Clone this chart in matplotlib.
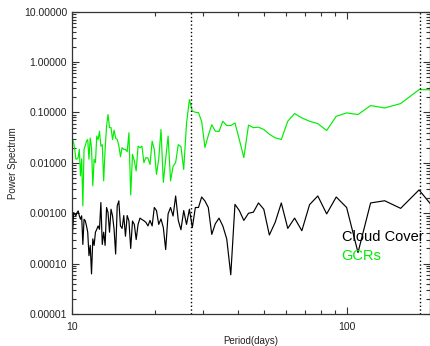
import numpy as np
import matplotlib
matplotlib.use("Agg")
import matplotlib.pyplot as plt
from matplotlib.ticker import LogLocator, NullFormatter, FixedLocator, FixedFormatter

plt.rcParams['font.family'] = ['Liberation Sans', 'DejaVu Sans']

# Fourier harmonics of a 1095-day record (period = 1095 / k), k = 109 ... 5
record_days = 1095.0
harmonic = np.arange(109, 4, -1)
period = record_days / harmonic

gcr_power = [
    0.029, 0.025, 0.0185, 0.0118, 0.012, 0.0127, 0.0185, 0.0055, 0.012, 0.0014,     # k 109-100
    0.0185, 0.022, 0.027, 0.029, 0.0118, 0.031, 0.02, 0.0035, 0.0118, 0.0101,       # k 99-90
    0.034, 0.029, 0.0425, 0.0215, 0.023, 0.0044, 0.0185, 0.053, 0.091, 0.050,       # k 89-80
    0.050, 0.029, 0.0445, 0.031, 0.029, 0.022, 0.0133, 0.020, 0.0185, 0.0185,       # k 79-70
    0.0167, 0.0395, 0.0023, 0.0147, 0.0109, 0.0069, 0.0215, 0.020, 0.0215, 0.0101,  # k 69-60
    0.0127, 0.0125, 0.0093, 0.027, 0.0185, 0.0059, 0.0118, 0.046, 0.0041, 0.0118,   # k 59-50
    0.034, 0.0044, 0.0085, 0.0101, 0.023, 0.021, 0.0074, 0.06, 0.18,                # k 49-41
    0.106, 0.101, 0.099, 0.066, 0.0202, 0.035, 0.057, 0.0425, 0.042, 0.067,         # k 40-31
    0.055, 0.055, 0.062, 0.029, 0.0127, 0.056, 0.050, 0.051, 0.046, 0.037,          # k 30-21
    0.0314, 0.0291, 0.067, 0.095, 0.078, 0.067, 0.060, 0.0439, 0.084, 0.098,        # k 20-11
    0.091, 0.137, 0.123, 0.150, 0.284, 0.28,                                        # k 10-5
]

cloud_power = [
    0.00042, 0.00103, 0.00096, 0.00089, 0.00103, 0.00111, 0.00089, 0.00076, 0.00089, 0.00024,
    0.00076, 0.00071, 0.00056, 0.00042, 0.000144, 0.00023, 0.0000625, 0.00031, 0.00023, 0.00042,
    0.00048, 0.00056, 0.00048, 0.00163, 0.00024, 0.00042, 0.00023, 0.0013, 0.00103, 0.00042,
    0.0012, 0.00089, 0.00048, 0.000155, 0.0014, 0.00176, 0.00056, 0.0005, 0.0009, 0.00035,
    0.0009, 0.0007, 0.0002, 0.0007, 0.0006, 0.0003, 0.0006, 0.0008, 0.00075, 0.00071,
    0.00066, 0.00056, 0.00072, 0.00056, 0.0013, 0.00113, 0.0006, 0.00077, 0.00052, 0.00019,
    0.00097, 0.0013, 0.00088, 0.0022, 0.00072, 0.00047, 0.00113, 0.0006, 0.0012,
    0.00052, 0.0013, 0.0013, 0.0021, 0.00175, 0.0013, 0.00038, 0.00062, 0.0008, 0.00056,
    0.00031, 0.00006, 0.0015, 0.00113, 0.00072, 0.001, 0.00105, 0.0016, 0.0012, 0.00037,
    0.00066, 0.0016, 0.0005, 0.0008, 0.00045, 0.00148, 0.0022, 0.00097, 0.0021, 0.0013,
    0.000166, 0.0016, 0.00177, 0.00125, 0.0029, 0.00086,
]

marker_periods = [27.0, 184.0]
y_ticks = [1e-5, 1e-4, 1e-3, 1e-2, 1e-1, 1.0, 10.0]
y_ticklabels = ["0.00001", "0.00010", "0.00100", "0.01000", "0.10000", "1.00000", "10.00000"]
x_ticks = [10, 100]
x_ticklabels = ["10", "100"]

W, H = 431, 346
fig = plt.figure(figsize=(W / 100, H / 100), dpi=100)
ax = fig.add_axes([72 / W, 1 - 314 / H, (430 - 72) / W, (314 - 11.7) / H])

ax.plot(period, gcr_power, color='#00ee00', lw=0.85)
ax.plot(period, cloud_power, color='black', lw=0.85)
for p in marker_periods:
    ax.axvline(p, color='black', lw=1.0, ls=(0, (1, 1.7)))

ax.set_xscale('log')
ax.set_yscale('log')
ax.set_xlim(10, 200)
ax.set_ylim(1e-5, 10)

ax.yaxis.set_major_locator(FixedLocator(y_ticks))
ax.yaxis.set_major_formatter(FixedFormatter(y_ticklabels))
ax.yaxis.set_minor_locator(LogLocator(base=10, subs=np.arange(2, 10), numticks=20))
ax.yaxis.set_minor_formatter(NullFormatter())
ax.xaxis.set_major_locator(FixedLocator(x_ticks))
ax.xaxis.set_major_formatter(FixedFormatter(x_ticklabels))
ax.xaxis.set_minor_locator(LogLocator(base=10, subs=np.arange(2, 10), numticks=20))
ax.xaxis.set_minor_formatter(NullFormatter())

ax.tick_params(which='both', direction='in', top=True, right=True, colors='#333333',
               labelcolor='#222222', labelsize=7.5, width=0.8)
ax.tick_params(which='major', length=5)
ax.tick_params(which='minor', length=2.8)
ax.tick_params(axis='x', which='major', pad=6)
for s in ax.spines.values():
    s.set_color('#333333')
    s.set_linewidth(0.9)

ax.set_ylabel('Power Spectrum', fontsize=7, color='#222222', labelpad=4)
ax.set_xlabel('Period(days)', fontsize=7, color='#222222', labelpad=3)

fig.text(341.7 / W, 1 - 240.7 / H, 'Cloud Cover', color='black', fontsize=10.5, va='baseline')
fig.text(341.7 / W, 1 - 260 / H, 'GCRs', color='#00ee00', fontsize=10.5, va='baseline')

fig.savefig('out.png', dpi=100)
